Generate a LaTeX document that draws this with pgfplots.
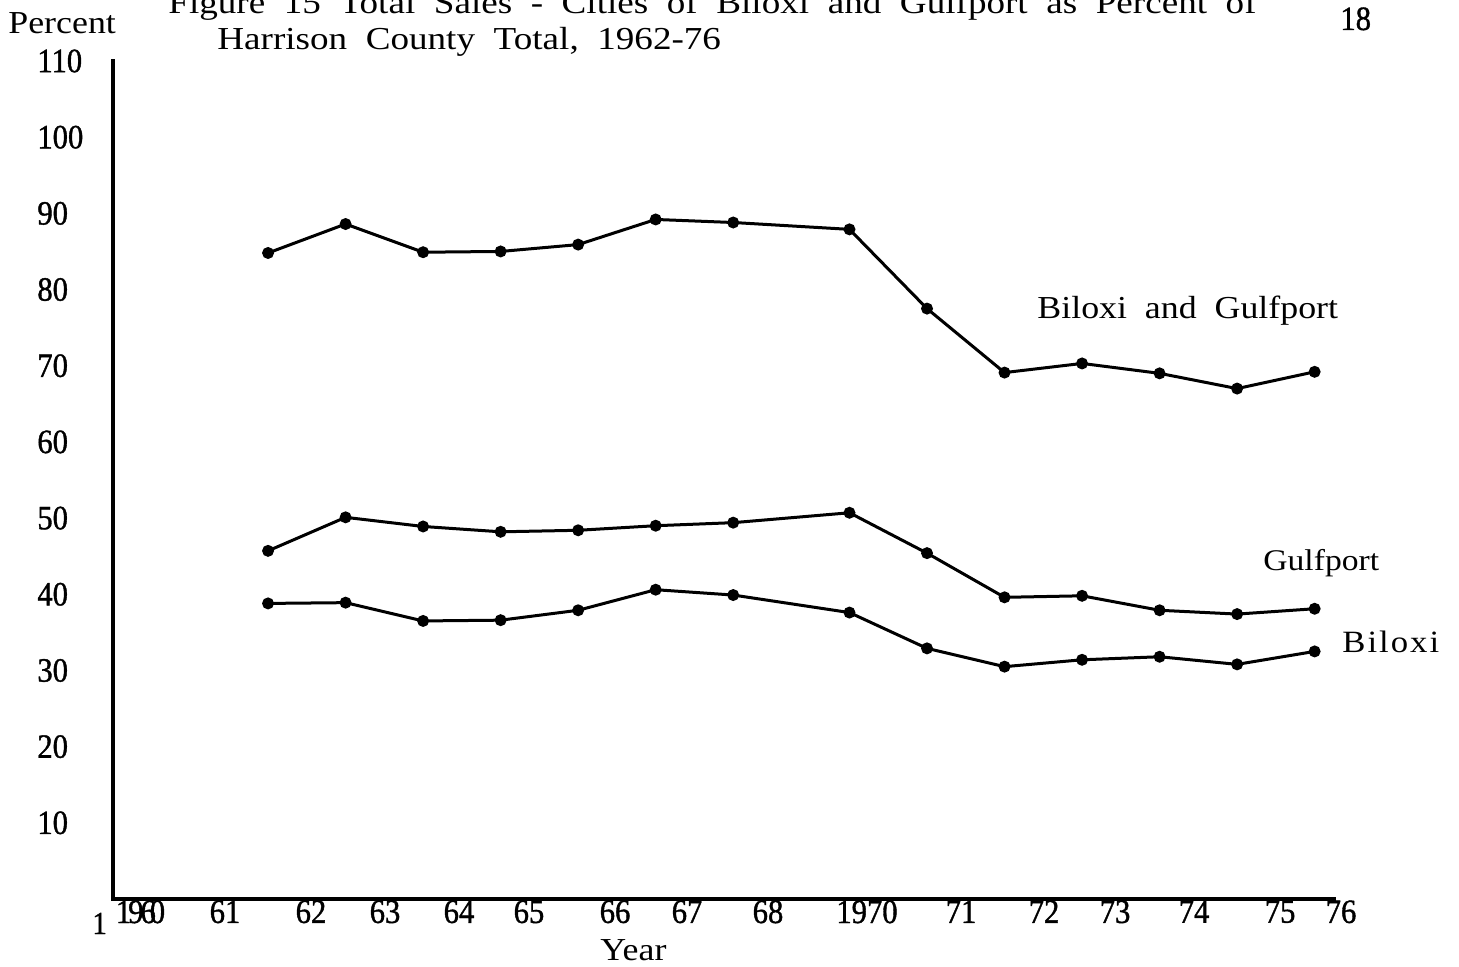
\documentclass[border=0pt]{standalone}
\usepackage{fontspec}
\setmainfont{Liberation Serif}[FakeStretch=1.12]
\newfontfamily\titlefont{Liberation Serif}[FakeStretch=1.16]
\newfontfamily\numfont{Liberation Serif}[FakeStretch=0.9, FakeBold=1.1]
\usepackage{pgfplots}
\usepackage{pgfplotstable}
\pgfplotsset{compat=1.18}

% pos = horizontal position on the original chart (1969 is skipped on the axis)
\pgfplotstableread{
year pos  bg   gulf bil
1962 62   84.8 45.7 38.8
1963 63   88.6 50.1 38.9
1964 64   84.9 48.9 36.5
1965 65   85.0 48.2 36.6
1966 66   85.9 48.4 37.9
1967 67   89.2 49.0 40.6
1968 68   88.8 49.4 39.9
1970 69.5 87.9 50.7 37.6
1971 70.5 77.5 45.4 32.9
1972 71.5 69.1 39.6 30.5
1973 72.5 70.3 39.8 31.4
1974 73.5 69.0 37.9 31.8
1975 74.5 67.0 37.4 30.8
1976 75.5 69.2 38.1 32.5
}\sales

\begin{document}
\begin{tikzpicture}
\begin{axis}[
  at={(56.5pt,33.5pt)}, anchor=south west,
  scale only axis, width=610.5pt, height=419pt,
  xmin=60, xmax=75.75, ymin=0, ymax=110,
  axis x line=bottom, axis y line=left,
  axis line style={-, line width=2pt, black, line cap=rect},
  major tick length=0pt,
  xtick={60.355,61.445,62.554,63.509,64.463,65.366,66.476,67.405,68.449,69.726,70.939,72.01,72.926,73.945,75.055,75.75},
  xticklabels={{1\kern-1.5pt 9\kern-1.5pt 6\kern-3pt 0},61,62,63,64,65,66,67,68,1970,71,72,73,74,75,{\hspace*{7pt}76}},
  ytick={10,20,...,110},
  yticklabels={10,20,30,40,50,60,70,80,90,100,110},
  xticklabel style={anchor=north, inner sep=0pt, yshift=-0.5pt, font=\numfont\fontsize{17}{20}\selectfont},
  yticklabel style={anchor=west, inner sep=0pt, xshift=-38pt, font=\numfont\fontsize{17}{20}\selectfont},
  clip=false,
]
\addplot[black, line width=1.5pt, mark=*, mark size=2.2pt] table[x=pos, y=bg]{\sales};
\addplot[black, line width=1.5pt, mark=*, mark size=2.2pt] table[x=pos, y=gulf]{\sales};
\addplot[black, line width=1.5pt, mark=*, mark size=2.2pt] table[x=pos, y=bil]{\sales};
\end{axis}
\begin{scope}[every node/.style={inner sep=0pt, anchor=base west, font=\fontsize{16}{19}\selectfont}]
\node at (4pt,466pt) {Percent};
\node at (84pt,476pt) {\titlefont Figure~ 15~ Total~ Sales~ -~ Cities~ of~ Biloxi~ and~ Gulfport~ as~ Percent~ of};
\node at (108.5pt,458pt) {\titlefont Harrison~ County~ Total,~ 1962-76};
\node at (670pt,468pt) {\numfont\fontsize{17}{20}\selectfont 18};
\node at (518.5pt,324pt) {Biloxi~ and~ Gulfport};
\node at (631.5pt,197.7pt) {\fontsize{15}{18}\selectfont Gulfport};
\node at (671pt,156.7pt) {\fontsize{15.5}{18}\selectfont B\kern1pt i\kern1pt l\kern1pt o\kern1pt x\kern1pt i};
\node at (300pt,3pt) {Year};
\node at (46pt,16pt) {\numfont 1};
\end{scope}
\pgfresetboundingbox
\path[use as bounding box] (0,0) rectangle (729.5pt,483pt);
\end{tikzpicture}
\end{document}
